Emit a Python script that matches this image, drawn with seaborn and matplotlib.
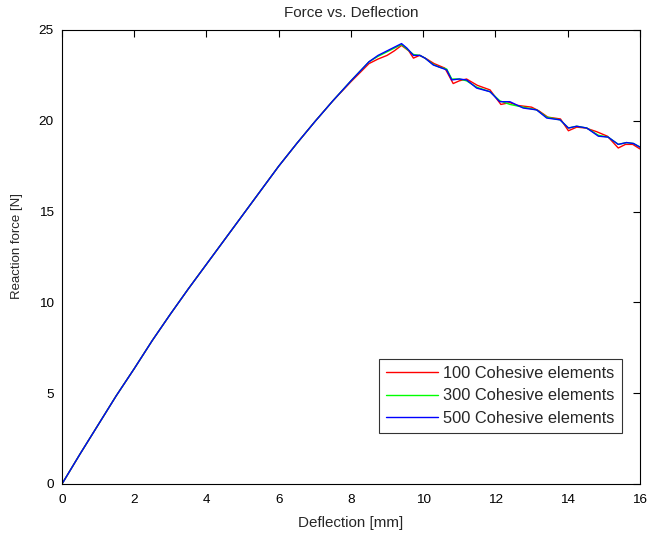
import matplotlib
matplotlib.use("Agg")
import matplotlib.pyplot as plt
import seaborn as sns
import pandas as pd

# Reaction force curves for three cohesive-element mesh densities
labels = ["100 Cohesive elements", "300 Cohesive elements", "500 Cohesive elements"]
colors = ["#ff0000", "#00ff00", "#0000ff"]

# Loading branch (deflection up to the peak)
x_rise = [0, 0.5, 1, 1.5, 2, 2.5, 3, 3.5, 4, 4.5, 5, 5.5, 6, 6.5, 7, 7.5, 8, 8.5,
          8.75, 9.0, 9.2]
y_rise_100 = [0, 1.65, 3.25, 4.85, 6.35, 7.9, 9.35, 10.75, 12.1, 13.45, 14.8, 16.15,
              17.5, 18.75, 19.95, 21.1, 22.15, 23.15, 23.4, 23.6, 23.85]
y_rise_300 = [0, 1.65, 3.25, 4.85, 6.35, 7.9, 9.35, 10.75, 12.1, 13.45, 14.8, 16.15,
              17.5, 18.75, 19.95, 21.1, 22.2, 23.25, 23.55, 23.8, 24.0]
y_rise_500 = [0, 1.65, 3.25, 4.85, 6.35, 7.9, 9.35, 10.75, 12.1, 13.45, 14.8, 16.15,
              17.5, 18.75, 19.95, 21.1, 22.2, 23.25, 23.6, 23.85, 24.05]

# Softening branch (peak and beyond)
x_soft_100 = [9.4, 9.6, 9.73, 9.9, 10.1, 10.3, 10.6, 10.83, 11.0, 11.2, 11.5, 11.85,
              12.15, 12.4, 12.6, 13.0, 13.2, 13.45, 13.8, 14.02, 14.25, 14.5, 14.8,
              15.1, 15.4, 15.6, 15.8, 16.0]
y_soft_100 = [24.15, 23.85, 23.45, 23.6, 23.4, 23.15, 22.9, 22.05, 22.2, 22.3, 21.95,
              21.7, 20.9, 21.0, 20.85, 20.75, 20.55, 20.2, 20.1, 19.45, 19.65, 19.6,
              19.4, 19.15, 18.5, 18.7, 18.7, 18.45]

x_soft_300 = [9.4, 9.55, 9.73, 9.91, 10.05, 10.28, 10.45, 10.65, 10.79, 11.0, 11.2,
              11.48, 11.85, 12.12, 12.4, 12.77, 13.14, 13.42, 13.79, 14.02, 14.25,
              14.53, 14.85, 15.12, 15.4, 15.63, 15.82, 16.0]
y_soft_300 = [24.2, 23.95, 23.65, 23.6, 23.45, 23.1, 22.95, 22.85, 22.3, 22.3, 22.2,
              21.85, 21.6, 21.1, 20.9, 20.75, 20.6, 20.2, 20.05, 19.6, 19.7, 19.6,
              19.2, 19.1, 18.7, 18.8, 18.75, 18.55]

x_soft_500 = [9.4, 9.55, 9.73, 9.91, 10.05, 10.28, 10.45, 10.65, 10.79, 11.0, 11.2,
              11.48, 11.85, 12.12, 12.4, 12.77, 13.14, 13.42, 13.79, 14.02, 14.25,
              14.53, 14.85, 15.12, 15.4, 15.63, 15.82, 16.0]
y_soft_500 = [24.25, 24.0, 23.6, 23.6, 23.45, 23.07, 22.95, 22.8, 22.25, 22.3, 22.25,
              21.8, 21.6, 21.05, 21.05, 20.7, 20.6, 20.15, 20.05, 19.6, 19.7, 19.6,
              19.15, 19.1, 18.7, 18.8, 18.75, 18.55]

x_ticks = [0, 2, 4, 6, 8, 10, 12, 14, 16]
y_ticks = [0, 5, 10, 15, 20, 25]

sns.set_style("white")
plt.rcParams["font.family"] = ["Liberation Sans", "DejaVu Sans"]

fig = plt.figure(figsize=(6.51, 5.43), dpi=100)
ax = fig.add_axes([0.0952, 0.1087, 0.8878, 0.8361])

series = [
    (x_rise + x_soft_100, y_rise_100 + y_soft_100),
    (x_rise + x_soft_300, y_rise_300 + y_soft_300),
    (x_rise + x_soft_500, y_rise_500 + y_soft_500),
]
for (xs, ys), lab, col in zip(series, labels, colors):
    df = pd.DataFrame({"x": xs, "y": ys})
    sns.lineplot(data=df, x="x", y="y", ax=ax, color=col, linewidth=1.0,
                 sort=False, estimator=None, label=lab)

ax.set_xlim(0, 16)
ax.set_ylim(0, 25)
ax.set_xticks(x_ticks)
ax.set_yticks(y_ticks)
ax.set_xticklabels([str(t) for t in x_ticks])
ax.set_yticklabels([str(t) for t in y_ticks])

ax.tick_params(direction="in", length=5, width=0.8, top=True, right=True,
               labelsize=9.7, colors="black")
ax.tick_params(axis="x", pad=7)
ax.tick_params(axis="y", pad=6)
for sp in ax.spines.values():
    sp.set_visible(True)
    sp.set_color("black")
    sp.set_linewidth(0.8)

ax.set_xlabel("Deflection [mm]", fontsize=10.9, labelpad=7.5)
ax.set_ylabel("Reaction force [N]", fontsize=9.5)
ax.yaxis.set_label_coords(-0.0675, 0.525)
ax.set_title("Force vs. Deflection", fontsize=11, pad=9)

leg = ax.legend(loc="lower right", bbox_to_anchor=(0.969, 0.112), fontsize=11.8,
                frameon=True, fancybox=False, handlelength=3.2, handletextpad=0.3,
                borderpad=0.45, labelspacing=0.45, borderaxespad=0)
leg.get_frame().set_edgecolor("black")
leg.get_frame().set_linewidth(0.8)

ax.grid(False)
fig.savefig("out.png", dpi=100, facecolor="white")
